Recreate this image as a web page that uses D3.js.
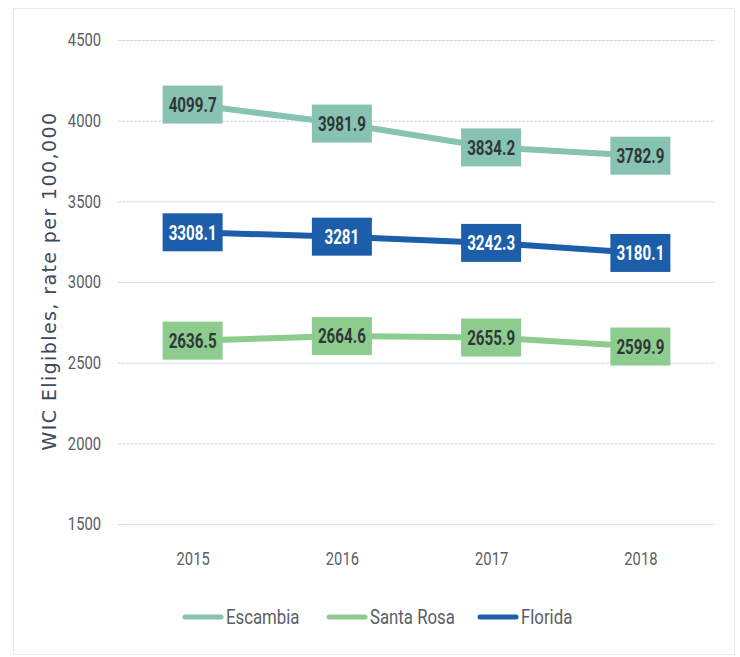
<!DOCTYPE html>
<html>
<head>
<meta charset="utf-8">
<script src="https://cdn.jsdelivr.net/npm/d3@7"></script>
<style>
  body { margin: 0; background: #fff; }
  svg { display: block; }
</style>
</head>
<body>
<script>
var years = ['2015', '2016', '2017', '2018'];
var escambia = [4099.7, 3981.9, 3834.2, 3782.9];
var santaRosa = [2636.5, 2664.6, 2655.9, 2599.9];
var florida = [3308.1, 3281, 3242.3, 3180.1];
var yTicks = [1500, 2000, 2500, 3000, 3500, 4000, 4500];
var seriesNames = ['Escambia', 'Santa Rosa', 'Florida'];

var width = 740;
var height = 657;
var narrow = 'Roboto, sans-serif';

var series = [
  { name: seriesNames[0], values: escambia, color: '#88c2b2', text: '#2e3838' },
  { name: seriesNames[1], values: santaRosa, color: '#8ecb8f', text: '#2e3838' },
  { name: seriesNames[2], values: florida, color: '#1c5eaa', text: '#ffffff' }
];

// squeeze text horizontally (no condensed font available)
function squeeze(sel, dx, k) {
  sel.attr('x', 0)
    .attr('transform', 'translate(' + dx + ',0) scale(' + k + ',1)');
}

var svg = d3.select('body').append('svg')
  .attr('width', width)
  .attr('height', height);

// faint outer frame
svg.append('rect')
  .attr('x', 13.5).attr('y', 8.5)
  .attr('width', 721).attr('height', 646)
  .attr('fill', 'none')
  .attr('stroke', '#e6ecf2');

var x = d3.scalePoint()
  .domain(years)
  .range([118, 715])
  .padding(0.5);

var y = d3.scaleLinear()
  .domain([1500, 4500])
  .range([524, 40]);

// gridlines
svg.append('g')
  .selectAll('line')
  .data(yTicks)
  .enter()
    .append('line')
    .attr('x1', 118)
    .attr('x2', 715)
    .attr('y1', function(d) { return y(d) + 0.5; })
    .attr('y2', function(d) { return y(d) + 0.5; })
    .attr('stroke', '#c9d9ea')
    .attr('stroke-width', 1)
    .attr('stroke-dasharray', '3,1');

// y axis
var yAxis = svg.append('g')
  .attr('transform', 'translate(118,0)')
  .call(d3.axisLeft(y).tickValues(yTicks).tickSize(0).tickFormat(d3.format('d')));
yAxis.select('.domain').remove();
yAxis.selectAll('text')
  .attr('fill', '#5a5e66')
  .style('font-family', narrow)
  .style('font-size', '18px')
  .call(squeeze, -17, 0.82);

// x axis
var xAxis = svg.append('g')
  .attr('transform', 'translate(0,548)')
  .call(d3.axisBottom(x).tickSize(0).tickPadding(4));
xAxis.select('.domain').remove();
xAxis.selectAll('text')
  .attr('fill', '#5a5e66')
  .style('font-family', narrow)
  .style('font-size', '18px')
  .call(squeeze, 0, 0.82);

// axis title
svg.append('text')
  .attr('transform', 'translate(56,281) rotate(-90)')
  .attr('text-anchor', 'middle')
  .attr('fill', '#3d4a5a')
  .style('font-family', '"DejaVu Sans", Verdana, sans-serif')
  .style('font-size', '19px')
  .style('letter-spacing', '1.4px')
  .text('WIC Eligibles, rate per 100,000');

var line = d3.line()
  .x(function(d, i) { return x(years[i]); })
  .y(function(d) { return y(d); });

var groups = svg.selectAll('.series')
  .data(series)
  .enter()
    .append('g')
    .attr('class', 'series');

groups.append('path')
  .attr('d', function(s) { return line(s.values); })
  .attr('fill', 'none')
  .attr('stroke', function(s) { return s.color; })
  .attr('stroke-width', 6);

// data label boxes
var boxW = 60;
var boxH = 38;
groups.each(function(s) {
  var g = d3.select(this);
  var lab = g.selectAll('.lab')
    .data(s.values)
    .enter()
      .append('g')
      .attr('class', 'lab')
      .attr('transform', function(d, i) { return 'translate(' + x(years[i]) + ',' + y(d) + ')'; });
  lab.append('rect')
    .attr('x', -boxW / 2)
    .attr('y', -boxH / 2)
    .attr('width', boxW)
    .attr('height', boxH)
    .attr('fill', s.color);
  lab.append('text')
    .attr('text-anchor', 'middle')
    .attr('dy', '0.36em')
    .attr('fill', s.text)
    .style('font-family', narrow)
    .style('font-weight', 'bold')
    .style('font-size', '20px')
    .call(squeeze, 0, 0.76)
    .text(function(d) { return d; });
});

// legend
var legendX = [183, 327, 478];
var legend = svg.selectAll('.legend')
  .data(series)
  .enter()
    .append('g')
    .attr('class', 'legend')
    .attr('transform', function(s, i) { return 'translate(' + legendX[i] + ',617)'; });

legend.append('line')
  .attr('x1', 2).attr('x2', 38)
  .attr('y1', 0).attr('y2', 0)
  .attr('stroke', function(s) { return s.color; })
  .attr('stroke-width', 5)
  .attr('stroke-linecap', 'round');

legend.append('text')
  .attr('dy', '0.35em')
  .attr('fill', '#5a5e66')
  .style('font-family', narrow)
  .style('font-size', '21px')
  .call(squeeze, 43, 0.8)
  .text(function(s) { return s.name; });
</script>
</body>
</html>
